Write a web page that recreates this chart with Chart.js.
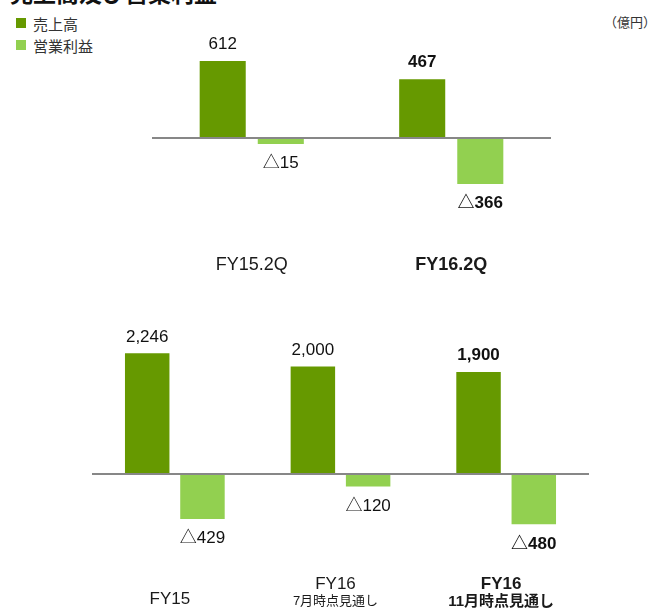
<!DOCTYPE html>
<html><head><meta charset="utf-8">
<script src="https://cdn.jsdelivr.net/npm/chart.js@4.4.1/dist/chart.umd.min.js"></script>
<style>
html,body{margin:0;padding:0;background:#fff;}
body{width:657px;height:608px;position:relative;overflow:hidden;font-family:"Liberation Sans",Arial,"Noto Sans CJK JP",sans-serif;color:#222;}
#title{position:absolute;left:10px;top:-19px;font-size:23px;line-height:23px;font-weight:bold;color:#111;white-space:nowrap;font-family:"Noto Sans CJK JP",sans-serif;}
#legend{position:absolute;left:16px;top:12px;}
.li{display:flex;align-items:center;height:22px;font-size:15px;color:#333;font-family:"Noto Sans CJK JP",sans-serif;}
.sw{width:10px;height:10px;margin-right:7px;}
#unit{position:absolute;right:1px;top:12px;font-size:13px;color:#333;font-family:"Noto Sans CJK JP",sans-serif;}
canvas{position:absolute;left:0;}
#c1{top:0;}
#c2{top:300px;}
</style></head>
<body>
<div id="title">売上高及び営業利益</div>
<div id="legend"></div>
<div id="unit">（億円）</div>
<canvas id="c1" width="657" height="300"></canvas>
<canvas id="c2" width="657" height="308"></canvas>
<script>
// ---- data ----
const seriesNames = ['売上高', '営業利益'];
const seriesColors = ['#669900', '#92D050'];
const topCategories = [['FY15.2Q'], ['FY16.2Q']];
const topSales = [612, 467];
const topProfit = [-15, -366];
const topHighlight = [false, true];
const bottomCategories = [['FY15'], ['FY16', '7月時点見通し'], ['FY16', '11月時点見通し']];
const bottomSales = [2246, 2000, 1900];
const bottomProfit = [-429, -120, -480];
const bottomHighlight = [false, false, true];

const FONT = '"Liberation Sans", Arial, "Noto Sans CJK JP", sans-serif';

// legend
const lg = document.getElementById('legend');
seriesNames.forEach((n, i) => {
  const d = document.createElement('div'); d.className = 'li';
  const s = document.createElement('span'); s.className = 'sw'; s.style.background = seriesColors[i];
  d.appendChild(s); d.appendChild(document.createTextNode(n)); lg.appendChild(d);
});

function fmt(v) { return Math.abs(v).toLocaleString('en-US'); }

const labelPlugin = {
  id: 'valueLabels',
  afterDatasetsDraw(chart, args, opts) {
    const { ctx, chartArea, scales } = chart;
    ctx.save();
    const y0 = scales.y.getPixelForValue(0);
    ctx.strokeStyle = '#878787'; ctx.lineWidth = 2;
    ctx.beginPath(); ctx.moveTo(chartArea.left, y0); ctx.lineTo(chartArea.right, y0); ctx.stroke();
    ctx.textAlign = 'center'; ctx.textBaseline = 'middle';
    chart.data.datasets.forEach((ds, di) => {
      const meta = chart.getDatasetMeta(di);
      meta.data.forEach((bar, i) => {
        const v = ds.data[i];
        const bold = opts.highlight[i];
        ctx.font = (bold ? 'bold ' : '') + opts.valueSize + 'px ' + FONT;
        ctx.fillStyle = '#111';
        const txt = v < 0 ? '△' + fmt(v) : fmt(v);
        const y = v < 0 ? bar.y + 19.5 : bar.y - 16.5;
        ctx.fillText(txt, bar.x, y);
      });
    });
    chart.data.labels.forEach((lab, i) => {
      const x = scales.x.getPixelForValue(i) + opts.catShift;
      const bold = opts.highlight[i];
      ctx.fillStyle = '#1a1a1a';
      if (lab.length === 1) {
        ctx.font = (bold ? 'bold ' : '') + opts.catSize + 'px ' + FONT;
        ctx.fillText(lab[0], x, opts.singleY);
      } else {
        ctx.font = (bold ? 'bold ' : '') + opts.catSize + 'px ' + FONT;
        ctx.fillText(lab[0], x, opts.line1Y);
        ctx.font = (bold ? 'bold ' : '') + (bold ? opts.subBoldSize : opts.subSize) + 'px ' + FONT;
        ctx.fillText(lab[1], x, opts.line2Y);
      }
    });
    ctx.restore();
  }
};

function makeChart(id, labels, sales, profit, cfg) {
  const datasets = [
    { label: seriesNames[0], data: sales, backgroundColor: seriesColors[0], yAxisID: 'y',
      barPercentage: cfg.barPct, categoryPercentage: cfg.catPct },
    { label: seriesNames[1], data: profit, backgroundColor: seriesColors[1], yAxisID: cfg.profitAxis,
      barPercentage: cfg.barPct, categoryPercentage: cfg.catPct, minBarLength: 6 }
  ];
  const scales = {
    x: { type: 'category', display: false },
    y: { display: false, min: cfg.yMin, max: cfg.yMax }
  };
  if (cfg.profitAxis === 'y2') scales.y2 = { display: false, min: cfg.y2Min, max: cfg.y2Max };
  return new Chart(document.getElementById(id), {
    type: 'bar',
    data: { labels, datasets },
    options: {
      responsive: false, animation: false, devicePixelRatio: 1,
      layout: { padding: cfg.padding },
      scales,
      plugins: { legend: { display: false }, tooltip: { enabled: false }, valueLabels: cfg.labels }
    },
    plugins: [labelPlugin]
  });
}

makeChart('c1', topCategories, topSales, topProfit, {
  barPct: 0.793, catPct: 0.5823, profitAxis: 'y',
  yMin: -700, yMax: 700,
  padding: { left: 152, right: 106, top: 49.8, bottom: 73.8 },
  labels: { highlight: topHighlight, valueSize: 17, catSize: 18, subSize: 13, subBoldSize: 15, catShift: 0, singleY: 265, line1Y: 256, line2Y: 274 }
});

makeChart('c2', bottomCategories, bottomSales, bottomProfit, {
  barPct: 0.805, catPct: 0.667, profitAxis: 'y2',
  yMin: -2400, yMax: 2400, y2Min: -1229, y2Max: 1229,
  padding: { left: 92, right: 68, top: 45.1, bottom: 5.1 },
  labels: { highlight: bottomHighlight, valueSize: 17, catSize: 17, subSize: 13, subBoldSize: 15, catShift: -5, singleY: 299, line1Y: 284, line2Y: 301.5 }
});
</script>
</body></html>
